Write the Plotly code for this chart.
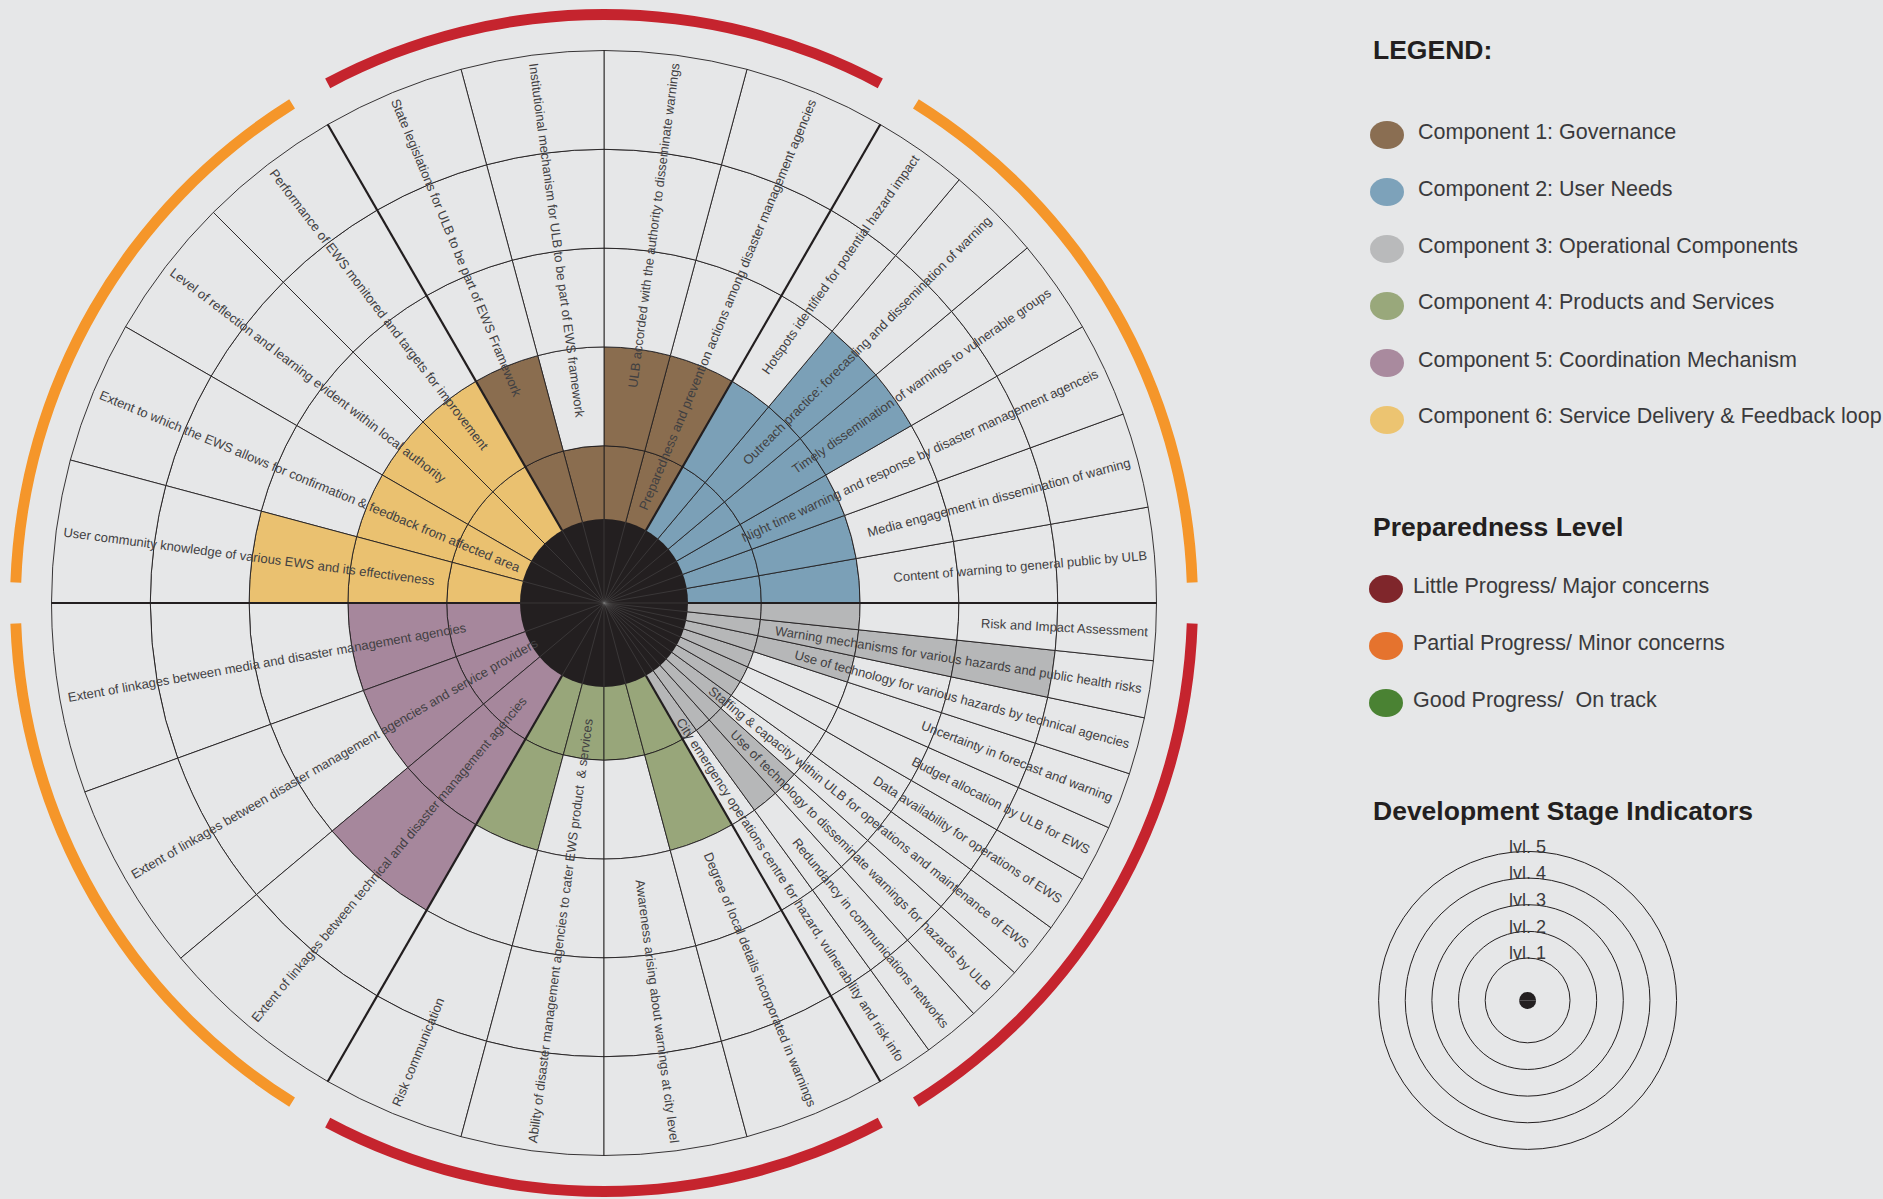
import math
import plotly.graph_objects as go

W, H = 1883, 1199
BG = "#e6e7e8"
INK = "#231f20"
TEXT = "#414042"

# ---------------- data ----------------
# Indicators are listed counter-clockwise inside each component; levels are 1-5.
user_labels = [
    "Content of warning to general public by ULB",
    "Media engagement in dissemination of warning",
    "Night time warning and response by disaster management agenceis",
    "Timely dissemination of warnings to vulnerable groups",
    "Outreach practice: forecasting and dissemination of warning",
    "Hotspots identified for potential hazard impact",
]
user_levels = [2, 2, 2, 3, 3, 2]

gov_labels = [
    "Preparedness and prevention actions among disaster management agencies",
    "ULB accorded with the authority to disseminate warnings",
    "Institutioinal mechanism for ULB to be part of EWS framework",
    "State legislations for ULB to be part of EWS Framework",
]
gov_levels = [2, 2, 1, 2]

service_labels = [
    "Performance of EWS monitored and targets for improvement",
    "Level of reflection and learning evident within local authority",
    "Extent to which the EWS allows for confirmation & feedback from affected area",
    "User community knowledge of various EWS and its effectiveness",
]
service_levels = [2, 2, 2, 3]

coord_labels = [
    "Extent of linkages between media and disaster management agencies",
    "Extent of linkages between disaster management agencies and service providers",
    "Extent of linkages between technical and disaster management agencies",
]
coord_levels = [2, 2, 3]

product_labels = [
    "Risk communication",
    "Ability of disaster management agencies to cater EWS product  & services",
    "Awareness arising about warnings at city level",
    "Degree of local details incorporated in warnings",
]
product_levels = [2, 1, 1, 2]

oper_labels = [
    "City emergency operations centre for hazard, vulnerability and risk info",
    "Redundancy in communications networks",
    "Use of technology to disseminate warnings for hazards by ULB",
    "Staffing & capacity within ULB for operations and maintenance of EWS",
    "Data availability for operations of EWS",
    "Budget allocation by ULB for EWS",
    "Uncertainty in forecast and warning",
    "Use of technology for various hazards by technical agencies",
    "Warning mechanisms for various hazards and public health risks",
    "Risk and Impact Assessment",
]
oper_levels = [1, 2, 2, 1, 1, 1, 1, 2, 4, 2]

component_names = [
    "Component 1: Governance",
    "Component 2: User Needs",
    "Component 3: Operational Components",
    "Component 4: Products and Services",
    "Component 5: Coordination Mechanism",
    "Component 6: Service Delivery & Feedback loop",
]
component_fill = ["#8a6d4f", "#7ba0b7", "#b6b7b8", "#98a67a", "#a6879c", "#eac170"]
component_legend = ["#8a6e52", "#7da2ba", "#b9babb", "#99a87b", "#a98a9e", "#ecc471"]

status_names = [
    "Little Progress/ Major concerns",
    "Partial Progress/ Minor concerns",
    "Good Progress/  On track",
]
status_legend = ["#7f262b", "#e5732e", "#4a8233"]
status_arc = ["#c5242e", "#f5962a", "#4a8233"]
# preparedness status per component (index into status_names)
component_status = [0, 1, 0, 0, 1, 1]

level_ticks = [1, 2, 3, 4, 5]
level_names = ["lvl. 1", "lvl. 2", "lvl. 3", "lvl. 4", "lvl. 5"]

# wheel order, counter-clockwise from east: (component index, labels, levels)
wheel = [
    (1, user_labels, user_levels),
    (0, gov_labels, gov_levels),
    (5, service_labels, service_levels),
    (4, coord_labels, coord_levels),
    (3, product_labels, product_levels),
    (2, oper_labels, oper_levels),
]
SECTOR = 360 / len(wheel)

# ---------------- geometry of the main polar ----------------
RMIN, RMAX = -0.592, 5.44
SCALE = 98.8                      # pixels per level
CX, CY = 604, 603                 # wheel centre in page pixels
RPX = (RMAX - RMIN) * SCALE
CORE_R = 0.258                    # edge of the dark hub
ARC_BASE, ARC_THICK = 5.31, 0.11  # preparedness arcs
LABEL_R = 4.92                    # outer end of indicator labels
LABEL_SIZE = 13

ARIAL = {' ': 278, '&': 667, ',': 278, '.': 278, ':': 278, '-': 333, '/': 278,
         'A': 667, 'B': 667, 'C': 722, 'D': 722, 'E': 667, 'F': 611, 'G': 778, 'H': 722,
         'I': 278, 'J': 500, 'K': 667, 'L': 556, 'M': 833, 'N': 722, 'O': 778, 'P': 667,
         'Q': 778, 'R': 722, 'S': 667, 'T': 611, 'U': 722, 'V': 667, 'W': 944, 'X': 667,
         'Y': 667, 'Z': 611, 'a': 556, 'b': 556, 'c': 500, 'd': 556, 'e': 556, 'f': 278,
         'g': 556, 'h': 556, 'i': 222, 'j': 222, 'k': 500, 'l': 222, 'm': 833, 'n': 556,
         'o': 556, 'p': 556, 'q': 556, 'r': 333, 's': 500, 't': 278, 'u': 556, 'v': 500,
         'w': 722, 'x': 500, 'y': 500, 'z': 500}


def text_width(s, size):
    return sum(ARIAL.get(c, 556) for c in s) / 1000 * size


def px_to_paper(x, y):
    return x / W, 1 - y / H


def polar_px(dist, theta):
    t = math.radians(theta)
    return CX + dist * math.cos(t), CY - dist * math.sin(t)


# ---------------- build the cells ----------------
cell_theta, cell_width, cell_base, cell_r, cell_color = [], [], [], [], []
label_pos = []
boundaries = []
arc_theta, arc_color = [], []
for s_idx, (comp, labels, levels) in enumerate(wheel):
    start = s_idx * SECTOR
    n = len(labels)
    w = SECTOR / n
    arc_theta.append(start + SECTOR / 2)
    arc_color.append(status_arc[component_status[comp]])
    for i, (lab, lev) in enumerate(zip(labels, levels)):
        th = start + w * (i + 0.5)
        boundaries.append(start + w * i)
        label_pos.append((lab, th))
        for k in level_ticks:
            cell_theta.append(th)
            cell_width.append(w)
            cell_base.append(k - 1)
            cell_r.append(1)
            cell_color.append(component_fill[comp] if k <= lev else BG)

fig = go.Figure()

fig.add_trace(go.Barpolar(
    theta=cell_theta, width=cell_width, base=cell_base, r=cell_r,
    marker=dict(color=cell_color, line=dict(color=INK, width=0.9)),
    subplot="polar", hoverinfo="skip", showlegend=False,
))

# dark hub
fig.add_trace(go.Barpolar(
    theta=[90, 270], width=[180, 180], base=[RMIN, RMIN], r=[CORE_R - RMIN] * 2,
    marker=dict(color=INK, line=dict(width=0)),
    subplot="polar", hoverinfo="skip", showlegend=False,
))

# faint spokes across the hub
hub_r, hub_t = [], []
for b in boundaries:
    hub_r += [RMIN, CORE_R, None]
    hub_t += [b, b, None]
fig.add_trace(go.Scatterpolar(
    r=hub_r, theta=hub_t, mode="lines",
    line=dict(color="rgba(120,120,120,0.45)", width=0.6),
    subplot="polar", hoverinfo="skip", showlegend=False,
))

# heavy component separators
sep_r, sep_t = [], []
for s_idx in range(len(wheel)):
    a = s_idx * SECTOR
    sep_r += [CORE_R, 5, None]
    sep_t += [a, a, None]
fig.add_trace(go.Scatterpolar(
    r=sep_r, theta=sep_t, mode="lines",
    line=dict(color=INK, width=2.2),
    subplot="polar", hoverinfo="skip", showlegend=False,
))

# preparedness arcs around each component
fig.add_trace(go.Barpolar(
    theta=arc_theta, width=[SECTOR - 4] * len(arc_theta),
    base=[ARC_BASE] * len(arc_theta), r=[ARC_THICK] * len(arc_theta),
    marker=dict(color=arc_color, line=dict(width=0)),
    subplot="polar", hoverinfo="skip", showlegend=False,
))

annotations = []
label_out_px = (LABEL_R - RMIN) * SCALE
for lab, th in label_pos:
    wpx = text_width(lab, LABEL_SIZE)
    mid = label_out_px - wpx / 2
    px, py = polar_px(mid, th)
    xp, yp = px_to_paper(px, py)
    t = ((th + 180) % 360) - 180
    if -90 <= t <= 90:
        ang = -t
    elif t > 90:
        ang = 180 - t
    else:
        ang = -180 - t
    annotations.append(dict(
        text=lab.replace("&", "&amp;"), x=xp, y=yp, xref="paper", yref="paper",
        xanchor="center", yanchor="middle", textangle=ang, showarrow=False,
        font=dict(family="Liberation Sans, Arial, sans-serif", size=LABEL_SIZE, color=TEXT),
    ))

# ---------------- legend block ----------------
LEG_X = 1371
HEAD_FONT = dict(family="Liberation Sans, Arial, sans-serif", size=26.5, color=INK, weight="bold")
ITEM_FONT = dict(family="Liberation Sans, Arial, sans-serif", size=21.5, color="#3a3a3c")
shapes = []


def heading(text, ycen):
    x, y = px_to_paper(LEG_X, ycen)
    annotations.append(dict(text=text, x=x, y=y, xref="paper", yref="paper",
                            xanchor="left", yanchor="middle", showarrow=False, font=HEAD_FONT))


def item(text, color, ycen, dot_x, text_x):
    x0, y0 = px_to_paper(dot_x - 17, ycen + 14)
    x1, y1 = px_to_paper(dot_x + 17, ycen - 14)
    shapes.append(dict(type="circle", xref="paper", yref="paper", x0=x0, y0=y0, x1=x1, y1=y1,
                       fillcolor=color, line=dict(width=0), layer="above"))
    tx, ty = px_to_paper(text_x, ycen - 3.5)
    annotations.append(dict(text=text.replace("&", "&amp;"), x=tx, y=ty, xref="paper", yref="paper",
                            xanchor="left", yanchor="middle", showarrow=False, font=ITEM_FONT))


heading("LEGEND:", 50)
for i, (name, col) in enumerate(zip(component_names, component_legend)):
    item(name, col, 135 + 57 * i, 1387, 1416)

heading("Preparedness Level", 527)
for i, (name, col) in enumerate(zip(status_names, status_legend)):
    item(name, col, 589 + 57 * i, 1386, 1411)

heading("Development Stage Indicators", 811)

# ---------------- development stage key (second polar) ----------------
KX, KY, KR5 = 1527.6, 1000.4, 149      # centre and radius of the level-5 ring
KMAX = 5.4                             # headroom above the last ring for its name
kscale = KR5 / (5 - RMIN)
KR = (KMAX - RMIN) * kscale
fig.add_trace(go.Barpolar(
    theta=[90, 270], width=[180, 180], base=[RMIN, RMIN], r=[8.5 / kscale] * 2,
    marker=dict(color=INK, line=dict(width=0)),
    subplot="polar2", hoverinfo="skip", showlegend=False,
))
# level names sit on their ring, slightly lifted
fig.add_trace(go.Scatterpolar(
    r=[k + 0.12 for k in level_ticks], theta=[90] * len(level_ticks), mode="text", text=level_names,
    textposition="middle center", cliponaxis=False,
    textfont=dict(family="Liberation Sans, Arial, sans-serif", size=18, color="#3a3a3c"),
    subplot="polar2", hoverinfo="skip", showlegend=False,
))

fig.update_layout(
    width=W, height=H,
    margin=dict(l=0, r=0, t=0, b=0),
    paper_bgcolor=BG, plot_bgcolor=BG,
    showlegend=False,
    polar=dict(
        domain=dict(x=[(CX - RPX) / W, (CX + RPX) / W], y=[1 - (CY + RPX) / H, 1 - (CY - RPX) / H]),
        bgcolor="rgba(0,0,0,0)", barmode="overlay", hole=0,
        radialaxis=dict(range=[RMIN, RMAX], visible=False),
        angularaxis=dict(visible=False, rotation=0, direction="counterclockwise"),
    ),
    polar2=dict(
        domain=dict(x=[(KX - KR) / W, (KX + KR) / W], y=[1 - (KY + KR) / H, 1 - (KY - KR) / H]),
        bgcolor="rgba(0,0,0,0)", barmode="overlay",
        radialaxis=dict(range=[RMIN, KMAX], tickvals=level_ticks, showgrid=True,
                        gridcolor=INK, gridwidth=1, showticklabels=False, ticks="", showline=False),
        angularaxis=dict(showgrid=False, showticklabels=False, ticks="", showline=False),
    ),
    annotations=annotations,
    shapes=shapes,
)

fig.write_html("out.html")
